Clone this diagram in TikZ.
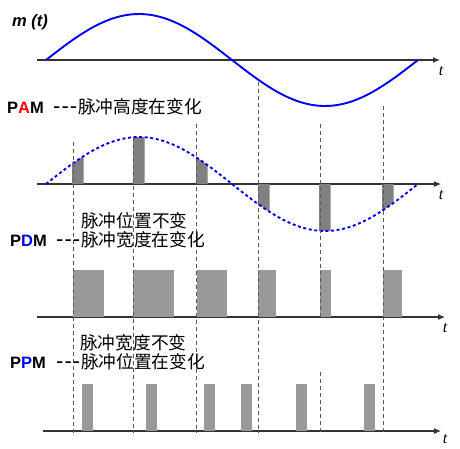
\documentclass[tikz,border=0pt]{standalone}
\usepackage{fontspec}
\setmainfont{Liberation Sans}
\newfontfamily\cjk{Noto Sans CJK SC}
\newfontfamily\tfont{Liberation Serif}
\newfontfamily\lsans{Liberation Sans}
\usetikzlibrary{arrows.meta}
\usepackage{xcolor}
\definecolor{axisgray}{HTML}{333333}
\definecolor{pamgray}{HTML}{808080}
\definecolor{barsgray}{HTML}{999999}
\newcommand{\dashes}{{\lsans\fontsize{22}{22}\selectfont -\kern1pt-\kern1pt-}\kern1pt}

\tikzset{
  axis/.style={draw=axisgray,line width=1.1pt,-{Latex[length=7pt,width=6pt]}},
  tlab/.style={font=\tfont\itshape\fontsize{16}{16}\selectfont,inner sep=0pt},
  modlab/.style={font=\bfseries\fontsize{16.5}{18}\selectfont,anchor=west,inner sep=0pt},
  cnlab/.style={font=\cjk\fontsize{17.7}{20}\selectfont,anchor=west,inner sep=0pt},
  samp/.style={draw=black!65,line width=0.8pt,dash pattern=on 4pt off 3pt}
}

\begin{document}
\begin{tikzpicture}[x=1pt,y=-1pt]
  \useasboundingbox (0,0) rectangle (460,448);
  % axes
  \coordinate (a0) at (37,60);  \coordinate (b0) at (440,60);
  \coordinate (a1) at (37,184); \coordinate (b1) at (441,184);
  \coordinate (a2) at (37,317); \coordinate (b2) at (445,317);
  \coordinate (a3) at (43,431); \coordinate (b3) at (441,431);
  \draw[axis] (a0)--(b0); \draw[axis] (a1)--(b1);
  \draw[axis] (a2)--(b2); \draw[axis] (a3)--(b3);
  \node[tlab] (t0) at (441,71) {t};  \node[tlab] (t1) at (441,195) {t};
  \node[tlab] (t2) at (445,328) {t}; \node[tlab] (t3) at (445,439) {t};
  \node[font=\bfseries\itshape\fontsize{16.5}{18}\selectfont,inner sep=0pt] (mt) at (30,22) {m (t)};
  % message and sampled envelope
  \draw[blue,line width=1.9pt] plot[domain=46:418,samples=80] (\x,{60-46*sin((\x-46)/372*360)});
  % PAM pulses
  \foreach \s in {72,133,196,258,319,382}
    \fill[pamgray] (\s,184) -- plot[domain=\s:\s+11.5,samples=6] (\x,{184-47*sin((\x-46)/372*360)}) -- (\s+11.5,184) -- cycle;
  \draw[blue,line width=1.9pt,dash pattern=on 3pt off 2.6pt] plot[domain=46:418,samples=80] (\x,{184-47*sin((\x-46)/372*360)});
  % PDM pulses
  \foreach \s/\w in {73/31,133/41,197/30,258/18,320/11,383/19}
    \fill[barsgray] (\s,270) rectangle (\s+\w,317);
  % PPM pulses
  \foreach \s in {82,146,204,241,296,364}
    \fill[barsgray] (\s,384) rectangle (\s+11,431);
  % sampling instants
  \foreach \s/\top in {73/142,133/137,196/124,258/82,383/106}
    \draw[samp] (\s,\top)--(\s,433);
  \draw[samp] (320,124)--(320,317);
  \draw[samp] (320,372)--(320,433);
  % labels
  \node[modlab] (pam) at (7,108) {P\textcolor{red}{A}M};
  \node[cnlab] (pamtxt) at (53,107) {\dashes 脉冲高度在变化};
  \node[cnlab] (pdmtop) at (81,221) {脉冲位置不变};
  \node[modlab] (pdm) at (10,241) {P\textcolor{blue}{D}M};
  \node[cnlab] (pdmtxt) at (56,240) {\dashes 脉冲宽度在变化};
  \node[cnlab] (ppmtop) at (80,343) {脉冲宽度不变};
  \node[modlab] (ppm) at (10,363) {P\textcolor{blue}{P}M};
  \node[cnlab] (ppmtxt) at (56,362) {\dashes 脉冲位置在变化};
\end{tikzpicture}
\end{document}
